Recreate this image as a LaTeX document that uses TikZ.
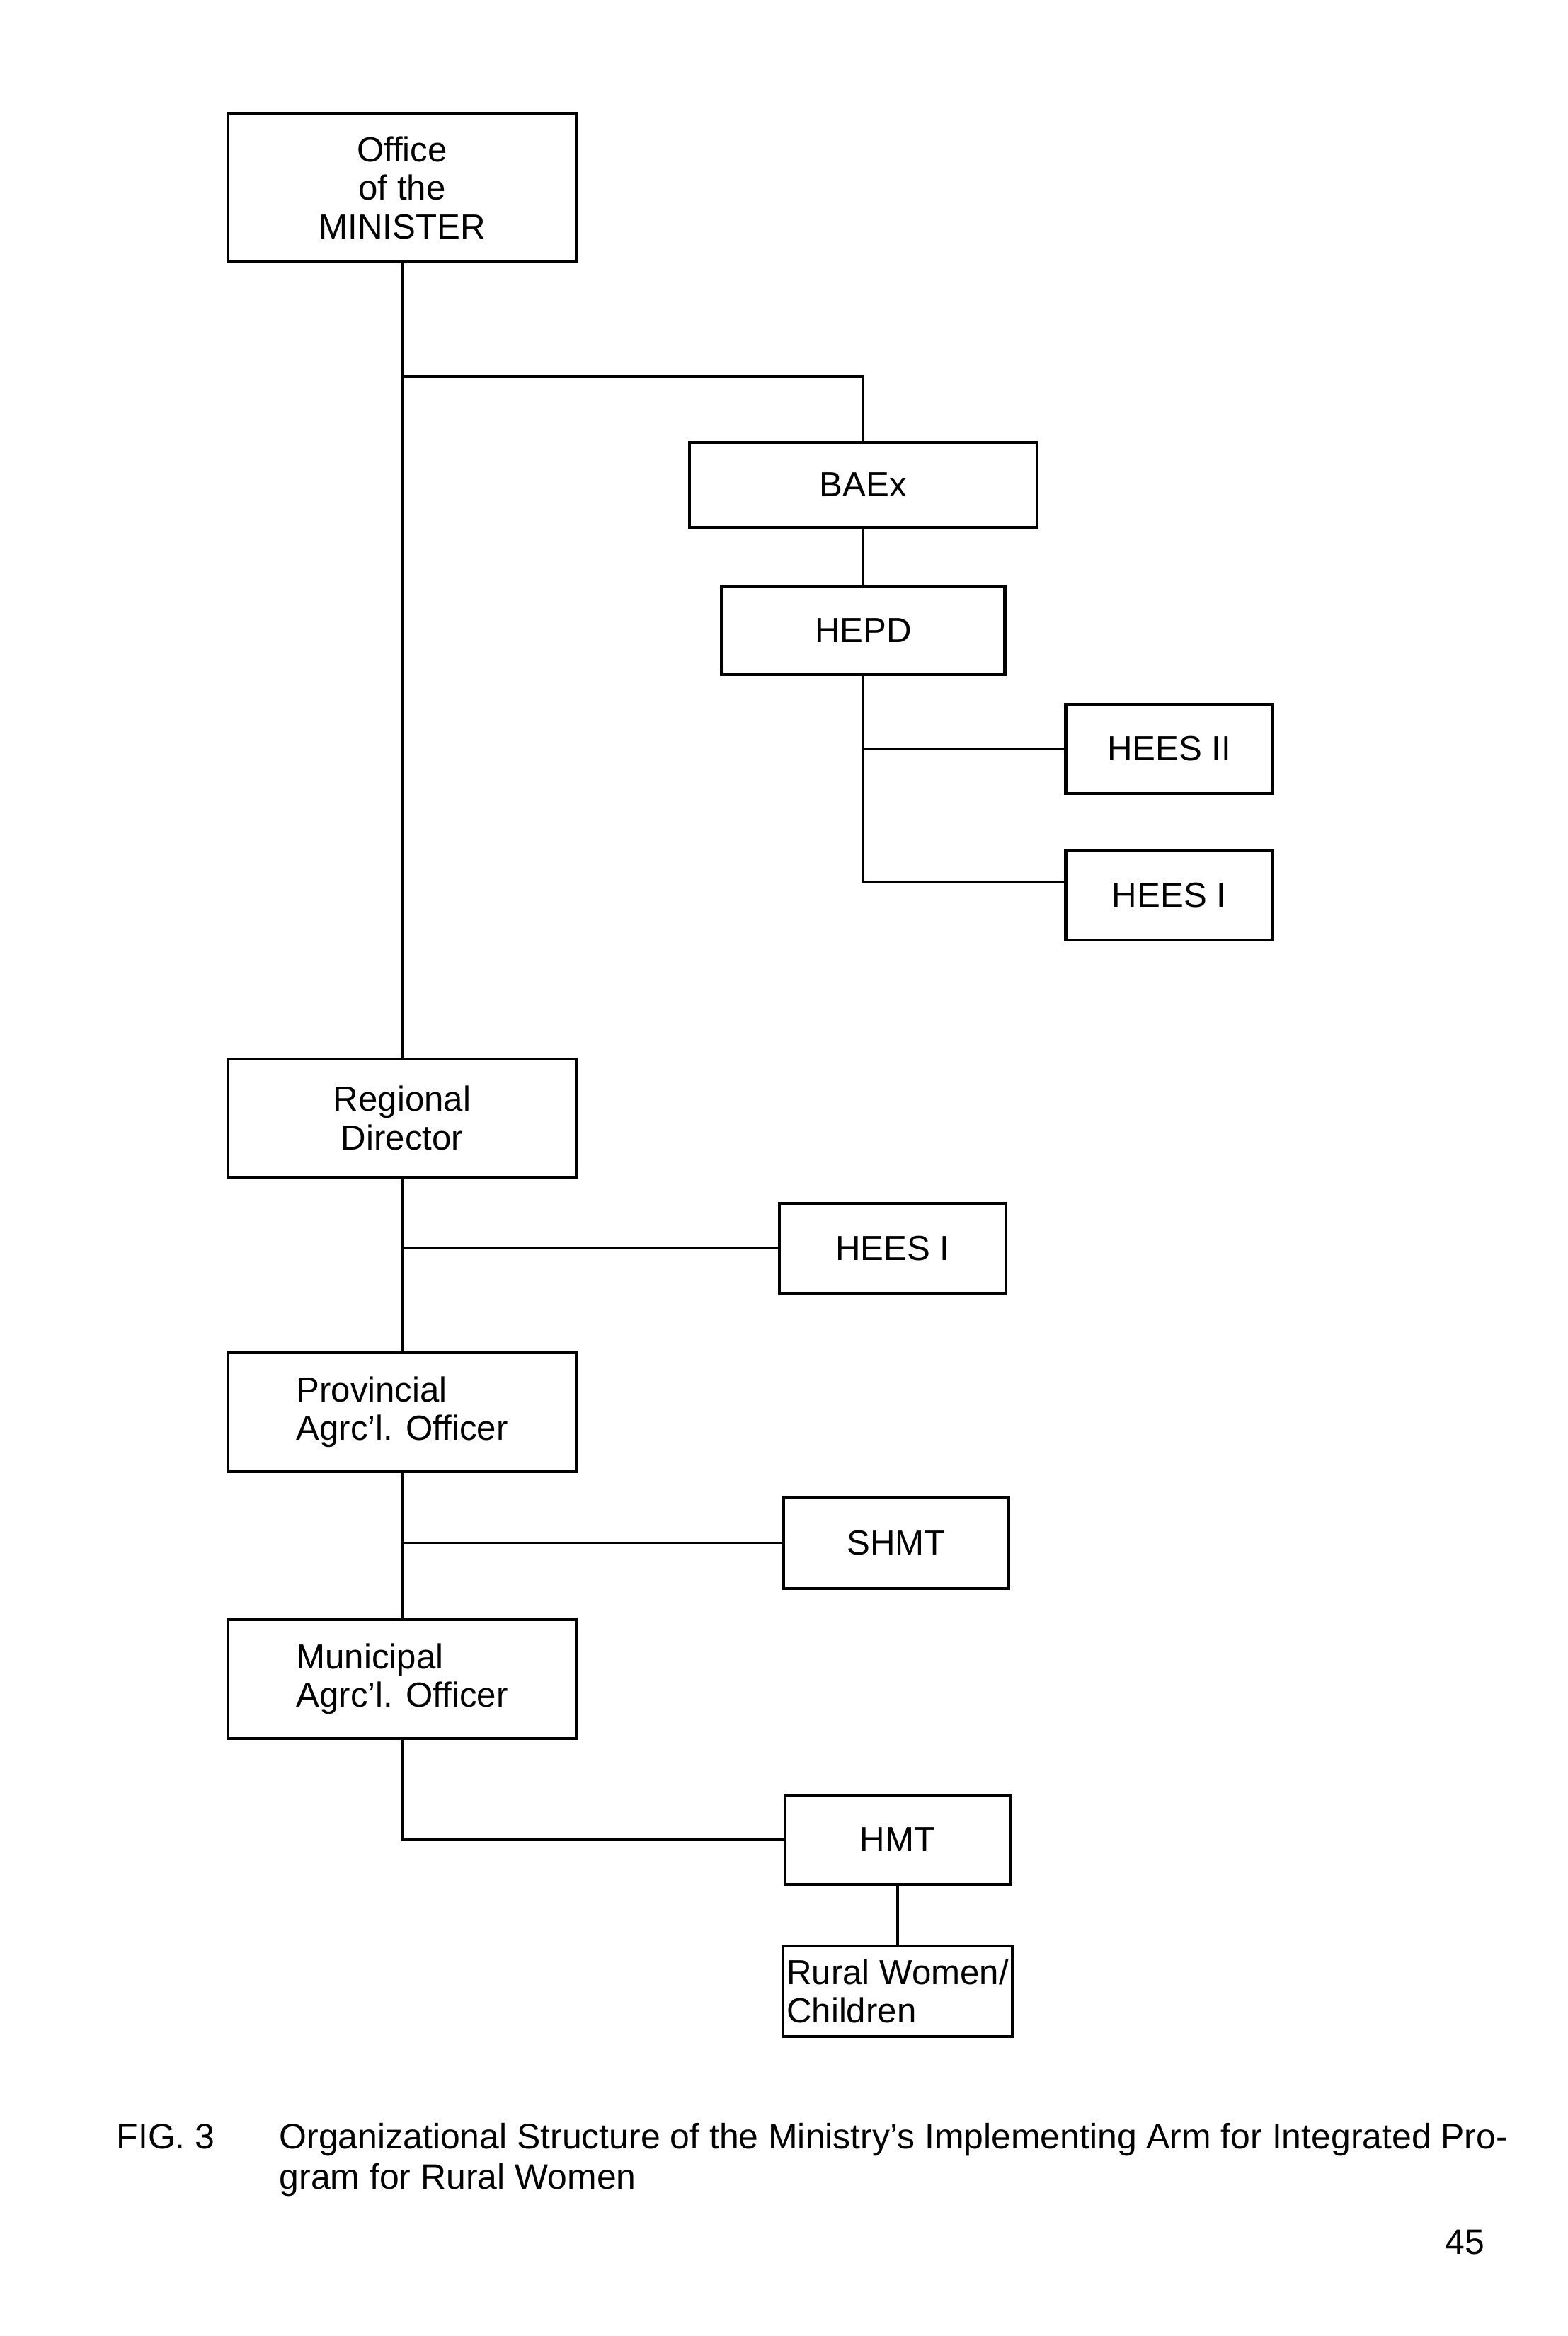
\documentclass[tikz,border=0pt]{standalone}
\usepackage{fontspec}
\setmainfont{Liberation Sans}
\usetikzlibrary{positioning}
\tikzset{
    orgbox/.style={draw, line width=1.3pt, align=center, font=\fontsize{14}{15.5}\selectfont, inner sep=2pt, outer sep=0pt},
    orgunit/.style={orgbox, minimum width=4.92cm, minimum height=1.68cm},
    orgoffice/.style={orgbox, minimum width=3.18cm, minimum height=1.27cm},
    orgline/.style={draw, line width=1.1pt},
    orgcaption/.style={font=\fontsize{14.2}{16.2}\selectfont, inner sep=0pt, align=left}
}

\begin{document}
\begin{tikzpicture}
    \useasboundingbox (0,0) rectangle (22.14,-33.00);
    % main column
    \node[orgunit, minimum height=2.10cm] (minister) at (5.68,-2.65) {Office\\of the\\MINISTER};
    \node[orgunit, below=11.26cm of minister, minimum height=1.67cm] (regional) {Regional\\Director};
    \node[orgunit, below=2.48cm of regional, align=left] (provincial) {Provincial\\Agrc'l. Officer};
    \node[orgunit, below=2.09cm of provincial, align=left] (municipal) {Municipal\\Agrc'l. Officer};

    % bureau branch
    \node[orgbox, minimum width=4.91cm, minimum height=1.20cm, below right=2.55cm and 1.60cm of minister] (baex) {BAEx};
    \node[orgbox, minimum width=4.00cm, minimum height=1.24cm, below=0.84cm of baex] (hepd) {HEPD};
    \node[orgbox, minimum width=2.92cm, minimum height=1.26cm, below right=0.42cm and 0.86cm of hepd] (heesii) {HEES II};
    \node[orgbox, minimum width=2.92cm, minimum height=1.26cm, below=0.81cm of heesii] (heesitop) {HEES I};

    % field offices
    \node[orgoffice, minimum width=3.20cm, below right=0.37cm and 2.87cm of regional] (heesimid) {HEES I};
    \node[orgoffice, minimum height=1.29cm, below right=0.36cm and 2.93cm of provincial] (shmt) {SHMT};
    \node[orgoffice, minimum height=1.26cm, below right=0.80cm and 2.95cm of municipal] (hmt) {HMT};
    \node[orgoffice, minimum width=3.20cm, minimum height=1.28cm, inner xsep=1.5pt, align=left, below=0.87cm of hmt] (rural) {Rural Women/\\Children};

    \path (minister.south) ++(0,-1.62) coordinate (baexfork);

    \draw[orgline] (minister.south) -- (regional.north);
    \draw[orgline] (baexfork) -| (baex.north);
    \draw[orgline] (baex) -- (hepd);
    \draw[orgline] (hepd.south |- heesii.west) -- (heesii.west);
    \draw[orgline] (hepd.south) |- ([yshift=0.19cm]heesitop.west);
    \draw[orgline] (regional) -- (provincial);
    \draw[orgline] (regional.south |- heesimid.west) -- (heesimid.west);
    \draw[orgline] (provincial) -- (municipal);
    \draw[orgline] (provincial.south |- shmt.west) -- (shmt.west);
    \draw[orgline] (municipal.south) |- (hmt.west);
    \draw[orgline] (hmt) -- (rural);

    % caption
    \node[orgcaption, anchor=base west] (figlabel) at (1.64,-30.35) {FIG. 3};
    \node[orgcaption, anchor=base west] (figcaption) at (3.94,-30.92) {Organizational Structure of the Ministry's Implementing Arm for Integrated Pro-\\gram for Rural Women};
    \node[orgcaption, anchor=base east] (pagenum) at (20.98,-31.84) {45};
\end{tikzpicture}
\end{document}
